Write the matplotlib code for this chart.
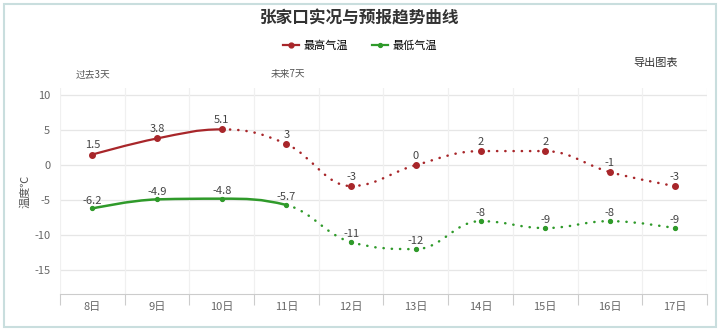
import matplotlib
matplotlib.use('Agg')
import matplotlib.pyplot as plt
from matplotlib.path import Path
from matplotlib.patches import PathPatch, Rectangle
from matplotlib.lines import Line2D
import numpy as np

plt.rcParams['font.family'] = ['Noto Sans CJK SC', 'DejaVu Sans']

days = ['8日', '9日', '10日', '11日', '12日', '13日', '14日', '15日', '16日', '17日']
high = [1.5, 3.8, 5.1, 3, -3, 0, 2, 2, -1, -3]
low = [-6.2, -4.9, -4.8, -5.7, -11, -12, -8, -9, -8, -9]
high_labels = ['1.5', '3.8', '5.1', '3', '-3', '0', '2', '2', '-1', '-3']
low_labels = ['-6.2', '-4.9', '-4.8', '-5.7', '-11', '-12', '-8', '-9', '-8', '-9']
high_solid_until = 2   # index where observed part ends
low_solid_until = 3
yticks = [10, 5, 0, -5, -10, -15]

HIGH_C = '#a8262a'
LOW_C = '#2f9a2a'


def spline_segments(x, y, sx=1.0, sy=7.0):
    # highcharts-style spline control points, computed in pixel-ish units
    px = np.array(x, float) * sx
    py = np.array(y, float) * sy
    n = len(px)
    sm = 1.5
    den = sm + 1
    lc = [None] * n
    rc = [None] * n
    for i in range(1, n - 1):
        lx = (sm * px[i] + px[i - 1]) / den
        ly = (sm * py[i] + py[i - 1]) / den
        rx = (sm * px[i] + px[i + 1]) / den
        ry = (sm * py[i] + py[i + 1]) / den
        if rx != lx:
            corr = (ry - ly) * (rx - px[i]) / (rx - lx) + py[i] - ry
            ly += corr
            ry += corr
        if ly > max(py[i - 1], py[i]):
            ly = max(py[i - 1], py[i]); ry = 2 * py[i] - ly
        elif ly < min(py[i - 1], py[i]):
            ly = min(py[i - 1], py[i]); ry = 2 * py[i] - ly
        if ry > max(py[i], py[i + 1]):
            ry = max(py[i], py[i + 1]); ly = 2 * py[i] - ry
        elif ry < min(py[i], py[i + 1]):
            ry = min(py[i], py[i + 1]); ly = 2 * py[i] - ry
        lc[i] = (lx, ly)
        rc[i] = (rx, ry)
    segs = []
    for i in range(n - 1):
        a = rc[i] if rc[i] else (px[i], py[i])
        b = lc[i + 1] if lc[i + 1] else (px[i + 1], py[i + 1])
        segs.append([(px[i] / sx, py[i] / sy), (a[0] / sx, a[1] / sy),
                     (b[0] / sx, b[1] / sy), (px[i + 1] / sx, py[i + 1] / sy)])
    return segs


def draw_series(ax, vals, split, color, lw_solid, ms):
    x = list(range(len(vals)))
    segs = spline_segments(x, vals, sx=64.7, sy=7.0)
    codes = [Path.MOVETO, Path.CURVE4, Path.CURVE4, Path.CURVE4]
    for i, s in enumerate(segs):
        if i < split:
            ax.add_patch(PathPatch(Path(s, codes), fill=False, edgecolor=color,
                                   lw=lw_solid, zorder=3))
        else:
            ax.add_patch(PathPatch(Path(s, codes), fill=False, edgecolor=color,
                                   lw=1.8, linestyle=(0, (0.1, 3.2)),
                                   capstyle='round', zorder=3))
    ax.plot(x, vals, 'o', color=color, ms=ms, zorder=4)


fig = plt.figure(figsize=(7.2, 3.31), dpi=100)
fig.patches.append(Rectangle((0.005, 0.012), 0.99, 0.976, transform=fig.transFigure,
                             fill=False, edgecolor='#c9dede', lw=1.5))

ax = fig.add_axes([0.0833, 0.112, 0.8986, 0.622])
ax.set_xlim(-0.5, 9.5)
ax.set_ylim(-18.4, 11)

for yv in yticks:
    ax.axhline(yv, color='#e6e6e6', lw=0.9, zorder=1)
for xb in np.arange(-0.5, 10, 1):
    ax.axvline(xb, color='#f0f0f0', lw=0.9, zorder=1)

for sp in ['top', 'right', 'left']:
    ax.spines[sp].set_visible(False)
ax.spines['bottom'].set_color('#cccccc')

ax.set_yticks(yticks)
ax.set_yticklabels([str(v) for v in yticks])
ax.tick_params(axis='y', length=0, labelsize=8, colors='#666666', pad=7)
ax.set_xticks(np.arange(-0.5, 10, 1), minor=False)
ax.set_xticklabels([])
ax.set_xticks(range(len(days)), minor=True)
ax.set_xticklabels(days, minor=True)
ax.tick_params(axis='x', which='major', length=8, color='#cccccc')
ax.tick_params(axis='x', which='minor', length=0, labelsize=8, colors='#666666', pad=6)

draw_series(ax, high, high_solid_until, HIGH_C, 1.6, 4)
draw_series(ax, low, low_solid_until, LOW_C, 1.8, 2.8)

for i, (v, t) in enumerate(zip(high, high_labels)):
    ax.annotate(t, (i, v), xytext=(0, 3), textcoords='offset points',
                ha='center', va='bottom', fontsize=8, color='#444444', zorder=5)
for i, (v, t) in enumerate(zip(low, low_labels)):
    ax.annotate(t, (i, v), xytext=(0, 2), textcoords='offset points',
                ha='center', va='bottom', fontsize=8, color='#444444', zorder=5)

ax.set_ylabel('温度℃', fontsize=8, color='#555555', labelpad=3)

fig.text(0.5, 0.945, '张家口实况与预报趋势曲线', ha='center', va='center',
         fontsize=12, fontweight='bold', color='#333333')
fig.text(0.129, 0.776, '过去3天', ha='center', va='center', fontsize=7, color='#555555')
fig.text(0.40, 0.776, '未来7天', ha='center', va='center', fontsize=7, color='#555555')
fig.text(0.91, 0.81, '导出图表', ha='center', va='center', fontsize=8, color='#333333')

handles = [Line2D([], [], color=HIGH_C, marker='o', ms=3.5, lw=1.6),
           Line2D([], [], color=LOW_C, marker='o', ms=2.8, lw=1.6)]
fig.legend(handles, ['最高气温', '最低气温'], loc='center', bbox_to_anchor=(0.5, 0.862),
           ncol=2, frameon=False, fontsize=8, handlelength=1.4, handletextpad=0.4,
           columnspacing=2.2)

fig.savefig('out.png', dpi=100)
